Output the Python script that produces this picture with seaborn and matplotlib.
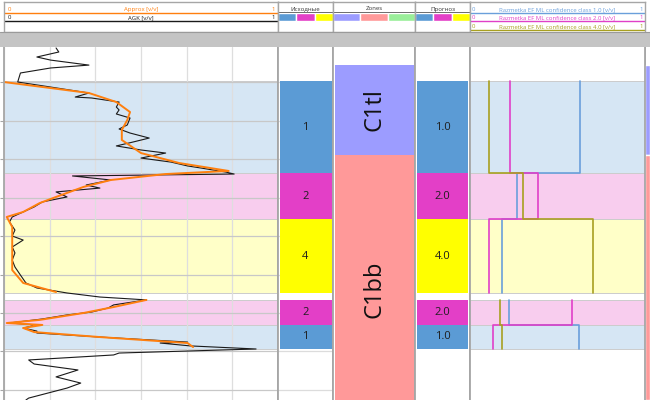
import numpy as np
import pandas as pd
import matplotlib
matplotlib.use("Agg")
import matplotlib.pyplot as plt
from matplotlib.patches import Rectangle
import seaborn as sns

# AGK curve, depth (m) / value (v/v)
agk_depth = [1000.23, 1000.44, 1000.70, 1000.86, 1001.12, 1001.27, 1001.53, 1002.00, 1002.26,
             1002.57, 1002.78, 1002.83, 1003.04, 1003.30, 1003.45, 1003.66, 1003.87, 1004.23,
             1004.44, 1004.65, 1004.91, 1005.12, 1005.32, 1005.53, 1005.69, 1005.95, 1006.16,
             1006.36, 1006.47, 1006.68, 1006.78, 1006.88, 1007.09, 1007.35, 1007.51, 1007.71,
             1007.97, 1008.23, 1008.49, 1008.75, 1009.01, 1009.27, 1009.69, 1010.00, 1010.21,
             1010.57, 1010.88, 1011.25, 1011.61, 1012.03, 1012.44, 1012.70, 1012.96, 1013.17,
             1013.32, 1013.58, 1013.74, 1013.95, 1014.10, 1014.31, 1014.52, 1014.62, 1014.78,
             1014.94, 1015.04, 1015.25, 1015.51, 1015.56, 1015.71, 1015.87, 1016.08, 1016.18,
             1016.44, 1016.65, 1016.96, 1017.32, 1017.64, 1017.90, 1018.16, 1018.42, 1018.52]
agk_value = [0.19, 0.20, 0.12, 0.17, 0.31, 0.17, 0.06, 0.05, 0.17,
             0.31, 0.26, 0.32, 0.42, 0.41, 0.42, 0.41, 0.46, 0.45,
             0.42, 0.46, 0.53, 0.47, 0.41, 0.50, 0.59, 0.50, 0.61,
             0.67, 0.72, 0.81, 0.84, 0.25, 0.39, 0.30, 0.35, 0.19,
             0.23, 0.14, 0.11, 0.07, 0.03, 0.02, 0.04, 0.03, 0.07,
             0.03, 0.04, 0.03, 0.04, 0.06, 0.08, 0.12, 0.23, 0.35,
             0.52, 0.40, 0.38, 0.32, 0.23, 0.14, 0.02, 0.12, 0.07,
             0.12, 0.12, 0.35, 0.67, 0.57, 0.68, 0.92, 0.42, 0.40,
             0.09, 0.11, 0.27, 0.19, 0.28, 0.23, 0.16, 0.09, 0.08]

# smoothed approximation (two pieces, broken at the gap)
approx_depth = [1002.00, 1002.57, 1003.04, 1003.56, 1003.97, 1004.49, 1005.01, 1005.69, 1006.21,
                1006.62, 1006.78, 1007.09, 1007.45, 1007.97, 1008.29, 1008.75, 1009.01, 1009.53,
                1010.57, 1011.77, 1012.44, 1012.91,
                1013.32, 1013.69, 1014.00, 1014.36, 1014.52, 1014.62, 1014.78, 1014.99, 1015.25,
                1015.56, 1015.77]
approx_value = [0.00, 0.31, 0.41, 0.46, 0.45, 0.43, 0.43, 0.50, 0.64,
                0.82, 0.59, 0.39, 0.29, 0.19, 0.13, 0.07, 0.01, 0.03,
                0.03, 0.03, 0.07, 0.19,
                0.52, 0.40, 0.29, 0.13, 0.01, 0.14, 0.07, 0.11, 0.35,
                0.67, 0.69]
approx_piece = [0] * 22 + [1] * 11

# facies intervals
facies_top = [1001.95, 1006.73, 1009.12, 1013.32, 1014.62]
facies_bottom = [1006.73, 1009.12, 1012.96, 1014.62, 1015.87]
facies_code = [1, 2, 4, 2, 1]
forecast_code = [1.0, 2.0, 4.0, 2.0, 1.0]
facies_piece = [0, 0, 0, 1, 1]

zone_name = ["C1tl", "C1bb"]
zone_top = [1001.12, 1005.79]
zone_bottom = [1005.79, 1018.52]
zone_label_depth = [1003.45, 1012.75]

# ML confidence per facies interval
conf_labels = ["1.0", "2.0", "4.0"]
conf_1 = [0.63, 0.27, 0.18, 0.22, 0.62]
conf_2 = [0.23, 0.39, 0.11, 0.58, 0.13]
conf_4 = [0.11, 0.30, 0.70, 0.17, 0.18]

depth_ticks = [1002, 1004, 1006, 1008, 1010, 1012, 1014, 1016, 1018]
depth_top, depth_bottom = 1000.18, 1018.52

block_color = {1: "#5b9bd5", 2: "#e33fc7", 4: "#ffff00"}
band_color = {1: "#d6e6f4", 2: "#f8cdee", 4: "#ffffc8"}
zone_color = {"C1tl": "#9c9cff", "C1bb": "#ff9999"}
conf_color = ["#6a9fdb", "#e040c8", "#a8a020"]
sep = "#a6a6a6"

sns.set_style("white")
plt.rcParams["font.family"] = ["Open Sans", "DejaVu Sans"]

W, H = 650, 400
fig = plt.figure(figsize=(6.5, 4), dpi=100)


def rect(x0, x1, y0, y1):
    return [x0 / W, 1 - y1 / H, (x1 - x0) / W, (y1 - y0) / H]


def track(x0, x1):
    ax = fig.add_axes(rect(x0, x1, 47, 400))
    ax.set_xlim(0, 1)
    ax.set_ylim(depth_bottom, depth_top)
    ax.set_xticks([])
    ax.set_yticks([])
    for s in ["left", "right"]:
        ax.spines[s].set_color(sep)
        ax.spines[s].set_linewidth(1.3)
    ax.spines["top"].set_visible(False)
    ax.spines["bottom"].set_visible(False)
    return ax


def header(x0, x1, y1=32):
    ax = fig.add_axes(rect(x0, x1, 2, y1))
    ax.set_xlim(0, 1)
    ax.set_ylim(y1, 2)
    ax.set_xticks([])
    ax.set_yticks([])
    for s in ax.spines.values():
        s.set_color(sep)
        s.set_linewidth(1.0)
    return ax


def header_curve(ax, y, label, color):
    ax.plot([0, 1], [y, y], color=color, lw=1.0)
    ax.text(0.5, y - 0.6, label, ha="center", va="bottom", fontsize=4.3, color=color)
    ax.text(0.012, y - 0.6, "0", ha="left", va="bottom", fontsize=4.3, color=color)
    ax.text(0.988, y - 0.6, "1", ha="right", va="bottom", fontsize=4.3, color=color)


def header_swatch(ax, title, colors):
    ax.text(0.5, 11.5, title, ha="center", va="bottom", fontsize=4.3, color="#333333")
    ax.plot([0, 1], [12.3, 12.3], color="#555555", lw=0.6)
    n = len(colors)
    ax.barh([17] * n, [1 / n] * n, height=8, left=[i / n for i in range(n)], color=colors)


def bands(ax):
    for t, b, c in zip(facies_top, facies_bottom, facies_code):
        ax.axhspan(t, b, color=band_color[c], zorder=0.2, lw=0)
        ax.axhline(t, color="#cccccc", lw=0.7, zorder=0.3)
        ax.axhline(b, color="#cccccc", lw=0.7, zorder=0.3)


# ---- AGK track
ax_gr = track(4, 278)
bands(ax_gr)
ax_gr.set_axisbelow(True)
ax_gr.set_xticks(np.linspace(0, 1, 7))
ax_gr.set_yticks(depth_ticks)
ax_gr.set_xticklabels([])
ax_gr.set_yticklabels([])
ax_gr.tick_params(axis="y", left=True, length=3, color=sep, width=0.8)
ax_gr.tick_params(axis="x", length=0)
ax_gr.grid(axis="x", color="#dedede", lw=0.9)
ax_gr.grid(axis="y", color="#c8c8c8", lw=0.9)
sns.lineplot(x=agk_value, y=agk_depth, sort=False, estimator=None, color="#1a1a1a",
             lw=0.8, ax=ax_gr)
approx_df = pd.DataFrame({"v": approx_value, "d": approx_depth, "piece": approx_piece})
sns.lineplot(data=approx_df, x="v", y="d", units="piece", sort=False, estimator=None,
             color="#ff7f0e", lw=1.4, ax=ax_gr)
ax_gr.set_xlim(0, 1)
ax_gr.set_ylim(depth_bottom, depth_top)
ax_gr.set_xlabel("")
ax_gr.set_ylabel("")

# ---- facies tracks
def blocks(ax, codes, left, width, fmt):
    mids = [(t + b) / 2 for t, b in zip(facies_top, facies_bottom)]
    heights = [b - t for t, b in zip(facies_top, facies_bottom)]
    ax.barh(mids, width, height=heights, left=left,
            color=[block_color[int(c)] for c in codes], edgecolor="none", zorder=2)
    for m, c in zip(mids, codes):
        ax.text(0.5, m, fmt.format(c), ha="center", va="center", fontsize=8,
                color="#1e1e1e", zorder=3)


ax_fac = track(278, 333)
ax_fac.set_axisbelow(True)
ax_fac.set_yticks(depth_ticks)
ax_fac.set_yticklabels([])
ax_fac.tick_params(axis="y", length=0)
ax_fac.grid(axis="y", color="#dcdcdc", lw=0.9)
blocks(ax_fac, facies_code, 0.036, 0.945, "{}")

ax_zone = track(333, 415)
zmid = [(t + b) / 2 for t, b in zip(zone_top, zone_bottom)]
ax_zone.barh(zmid, 0.963, height=[b - t for t, b in zip(zone_top, zone_bottom)],
             left=0.024, color=[zone_color[z] for z in zone_name], edgecolor="none")
for d, z in zip(zone_label_depth, zone_name):
    ax_zone.text(0.5, d, z, rotation=90, ha="center", va="center", fontsize=17,
                 color="#111111")

ax_pred = track(415, 470)
blocks(ax_pred, forecast_code, 0.036, 0.927, "{:.1f}")

# ---- confidence track
ax_conf = track(470, 645)
bands(ax_conf)
rows = []
for lab, vals in zip(conf_labels, [conf_1, conf_2, conf_4]):
    for t, b, v, p in zip(facies_top, facies_bottom, vals, facies_piece):
        rows.append({"cls": lab, "piece": p, "v": v, "d": t})
        rows.append({"cls": lab, "piece": p, "v": v, "d": b})
conf_df = pd.DataFrame(rows)
sns.lineplot(data=conf_df, x="v", y="d", hue="cls", units="piece", sort=False,
             estimator=None, palette=conf_color, lw=1.2, legend=False, ax=ax_conf)
ax_conf.set_xlim(0, 1)
ax_conf.set_ylim(depth_bottom, depth_top)
ax_conf.set_xlabel("")
ax_conf.set_ylabel("")
ax_conf.set_xticks([])
ax_conf.set_yticks([])

ax_strip = fig.add_axes(rect(645, 650, 47, 400))
ax_strip.barh(zmid, 1, height=[b - t for t, b in zip(zone_top, zone_bottom)],
              color=[zone_color[z] for z in zone_name])
ax_strip.set_xlim(0, 1)
ax_strip.set_ylim(depth_bottom, depth_top)
ax_strip.axis("off")
ax_strip.axvline(0, color=sep, lw=1.3)

# ---- headers
fig.add_artist(Rectangle((0, 1 - 47 / H), 1, 15 / H, transform=fig.transFigure,
                         facecolor="#c4c4c4", edgecolor="none"))
fig.add_artist(plt.Line2D([0, 1], [1 - 32 / H] * 2, transform=fig.transFigure,
                          color="#9a9a9a", lw=0.8))

h_gr = header(4, 278)
header_curve(h_gr, 13, "Approx [v/v]", "#ff7f0e")
header_curve(h_gr, 21, "AGK [v/v]", "#1a1a1a")

header_swatch(header(278, 333), "Исходные",
              [block_color[1], block_color[2], block_color[4]])
header_swatch(header(333, 415), "Zones", ["#9c9cff", "#ff9999", "#99ee99"])
header_swatch(header(415, 470), "Прогноз",
              [block_color[1], block_color[2], block_color[4]])

h_conf = header(470, 645, 34)
for y, lab, c in zip([13, 21, 30], conf_labels, conf_color):
    header_curve(h_conf, y, f"Razmetka EF ML confidence class {lab} [v/v]", c)

fig.savefig("out.png", dpi=100)
